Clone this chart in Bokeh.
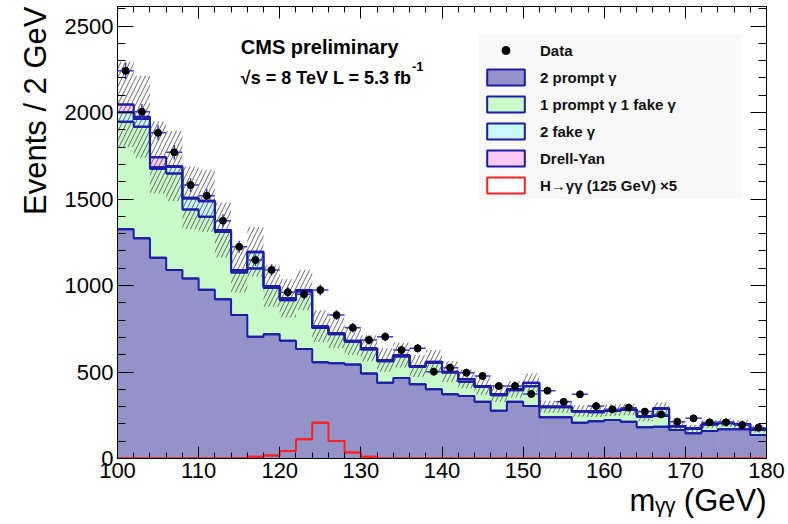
import numpy as np
from bokeh.plotting import figure
from bokeh.models import (Range1d, LinearAxis, SingleIntervalTicker, Label, Legend,
                          LegendItem, BoxAnnotation, Title)
from bokeh.embed import file_html
from bokeh.resources import INLINE

# ---------------- data ----------------
bin_low = [100, 102, 104, 106, 108, 110, 112, 114, 116, 118,
           120, 122, 124, 126, 128, 130, 132, 134, 136, 138,
           140, 142, 144, 146, 148, 150, 152, 154, 156, 158,
           160, 162, 164, 166, 168, 170, 172, 174, 176, 178]
bin_width = 2

prompt2 = [1325, 1273, 1160, 1090, 1040, 975, 920, 830, 704, 718,
           681, 633, 556, 550, 544, 492, 438, 465, 429, 400,
           371, 361, 328, 276, 328, 303, 238, 238, 207, 215,
           223, 213, 180, 184, 165, 146, 159, 169, 169, 136]
one_fake = [622, 645, 515, 558, 400, 422, 390, 245, 395, 267,
            234, 332, 199, 168, 131, 138, 124, 125, 101, 153,
            126, 83, 85, 90, 67, 115, 58, 58, 64, 53,
            53, 67, 62, 62, 20, 25, 37, 35, 27, 30]
two_fake = [54, 44, 8, 37, 63, 90, 8, 12, 93, 9,
            8, 6, 2, 3, 4, 5, 5, 6, 3, 5,
            3, 14, 4, 3, 3, 18, 2, 2, 2, 3,
            2, 2, 2, 42, 2, 2, 2, 2, 2, 2]
drell_yan = [46, 14, 58, 5, 4, 3, 3, 3, 3, 3,
             3, 3, 8, 3, 2, 2, 2, 2, 2, 2,
             2, 2, 2, 2, 2, 2, 2, 2, 2, 2,
             2, 2, 2, 2, 1, 1, 1, 1, 1, 1]
bkg_uncert = [246, 237, 209, 203, 181, 179, 159, 131, 143, 120,
              111, 117, 92, 87, 82, 76, 68, 72, 64, 67,
              60, 55, 50, 45, 48, 53, 36, 36, 33, 33,
              34, 34, 30, 35, 23, 21, 24, 25, 24, 20]
data = [2241, 2005, 1883, 1770, 1581, 1519, 1375, 1224, 1147, 1090,
        961, 949, 974, 829, 756, 685, 704, 627, 637, 502,
        525, 496, 477, 419, 419, 373, 392, 328, 371, 303,
        284, 294, 271, 255, 213, 232, 209, 209, 194, 178]
signal_x5 = [0, 0, 0, 0, 0, 0, 0, 2, 10, 18,
             43, 111, 207, 101, 34, 10, 0, 0, 0, 0,
             0, 0, 0, 0, 0, 0, 0, 0, 0, 0,
             0, 0, 0, 0, 0, 0, 0, 0, 0, 0]

legend_labels = ["Data", "2 prompt \u03b3", "1 prompt \u03b3 1 fake \u03b3", "2 fake \u03b3",
                 "Drell-Yan", "H\u2192\u03b3\u03b3 (125 GeV) \u00d75"]

# ---------------- styling ----------------
FONT = "Liberation Sans"
BLUE = "#1c1ca8"
C_PROMPT = "#9393c9"
C_ONEFAKE = "#c8f9c8"
C_TWOFAKE = "#c8f8fc"
C_DY = "#fcc8f6"
C_SIG = "#ff2020"
C_ERR = "#3c3cd0"

lo = np.array(bin_low, dtype=float)
hi = lo + bin_width
ctr = lo + bin_width / 2
edges = np.append(lo, hi[-1])
c1 = np.array(prompt2, float)
c2 = c1 + np.array(one_fake)
c3 = c2 + np.array(two_fake)
c4 = c3 + np.array(drell_yan)
unc = np.array(bkg_uncert, float)
d = np.array(data, float)
derr = np.sqrt(d)
sig = np.array(signal_x5, float)

p = figure(width=786, height=522, x_range=Range1d(100, 180), y_range=Range1d(0, 2613),
           output_backend="svg", toolbar_location=None,
           min_border_left=117, min_border_right=20, min_border_top=6, min_border_bottom=64)
p.xgrid.visible = False
p.ygrid.visible = False
p.outline_line_color = "black"
p.background_fill_color = "white"
p.border_fill_color = "white"

def style_axis(ax, major, minor, show_labels):
    ax.major_tick_in = major
    ax.major_tick_out = 0
    ax.minor_tick_in = minor
    ax.minor_tick_out = 0
    ax.axis_line_color = "black"
    ax.major_tick_line_color = "black"
    ax.minor_tick_line_color = "black"
    ax.major_label_text_font = FONT
    if show_labels:
        ax.major_label_text_color = "black"
        ax.major_label_text_font_size = "22px"
        ax.major_label_standoff = 4
    else:
        ax.major_label_text_color = None
        ax.major_label_text_font_size = "1px"
        ax.major_label_standoff = 0

p.xaxis.ticker = SingleIntervalTicker(interval=10, num_minor_ticks=5)
p.yaxis.ticker = SingleIntervalTicker(interval=500, num_minor_ticks=5)
style_axis(p.xaxis[0], 12, 6, True)
style_axis(p.yaxis[0], 16, 8, True)
top_ax = LinearAxis(ticker=SingleIntervalTicker(interval=10, num_minor_ticks=5))
right_ax = LinearAxis(ticker=SingleIntervalTicker(interval=500, num_minor_ticks=5))
style_axis(top_ax, 12, 6, False)
style_axis(right_ax, 16, 8, False)
p.add_layout(top_ax, "above")
p.add_layout(right_ax, "right")

# stacked fills
p.quad(left=lo, right=hi, bottom=0, top=c1, fill_color=C_PROMPT, line_color=C_PROMPT, line_width=1)
p.quad(left=lo, right=hi, bottom=c1, top=c2, fill_color=C_ONEFAKE, line_color=C_ONEFAKE, line_width=1)
p.quad(left=lo, right=hi, bottom=c2, top=c3, fill_color=C_TWOFAKE, line_color=C_TWOFAKE, line_width=1)
p.quad(left=lo, right=hi, bottom=c3, top=c4, fill_color=C_DY, line_color=C_DY, line_width=1)

# uncertainty band (hatched)
p.quad(left=lo, right=hi, bottom=c4 - unc, top=c4 + unc, fill_alpha=0, line_color=None,
       hatch_pattern="/", hatch_color="#555555", hatch_scale=9, hatch_weight=1, hatch_alpha=0.9)

# outlines: vertical connections via step lines, bin tops via zero-height quads (also legend swatches)
edge_r = []
for c, fc in ((c1, C_PROMPT), (c2, C_ONEFAKE), (c3, C_TWOFAKE), (c4, C_DY)):
    p.step(x=edges, y=np.append(c, c[-1]), mode="after", line_color=BLUE, line_width=2)
    edge_r.append(p.quad(left=lo, right=hi, bottom=c, top=c, fill_color=fc,
                         line_color=BLUE, line_width=2))

# signal
p.step(x=edges, y=np.append(sig, sig[-1]), mode="after", line_color=C_SIG, line_width=2)
r_sig = p.quad(left=lo, right=hi, bottom=sig, top=sig, fill_color="white",
               line_color=C_SIG, line_width=2)

# data
p.segment(x0=lo, x1=hi, y0=d, y1=d, line_color=C_ERR, line_width=1.5)
p.segment(x0=ctr, x1=ctr, y0=d - derr, y1=d + derr, line_color=C_ERR, line_width=1.5)
r_data = p.scatter(x=ctr, y=d, size=7, marker="circle", fill_color="black", line_color="black")

box = BoxAnnotation(left=144.5, right=176.9, bottom=1500, top=2452,
                    fill_color="#f8f8f8", fill_alpha=1, line_color=None)
p.add_layout(box)

legend = Legend(items=[LegendItem(label=legend_labels[0], renderers=[r_data]),
                       LegendItem(label=legend_labels[1], renderers=[edge_r[0]]),
                       LegendItem(label=legend_labels[2], renderers=[edge_r[1]]),
                       LegendItem(label=legend_labels[3], renderers=[edge_r[2]]),
                       LegendItem(label=legend_labels[4], renderers=[edge_r[3]]),
                       LegendItem(label=legend_labels[5], renderers=[r_sig])],
                location=(365, 263), glyph_width=47, glyph_height=20, spacing=7,
                padding=5, margin=0, label_standoff=11, label_text_font=FONT,
                label_text_font_size="15px", label_text_font_style="bold",
                label_text_color="#111111", background_fill_alpha=0, border_line_color=None)
p.add_layout(legend)

# texts in the frame
p.add_layout(Label(x=115.2, y=2376, text="CMS preliminary", text_font=FONT, text_font_size="20px",
                   text_font_style="bold", text_color="black", text_align="left", text_baseline="alphabetic"))
p.add_layout(Label(x=115.2, y=2200, text="\u221as = 8 TeV L = 5.3 fb", text_font=FONT, text_font_size="18px",
                   text_font_style="bold", text_color="black", text_align="left", text_baseline="alphabetic"))
p.add_layout(Label(x=136.3, y=2268, text="-1", text_font=FONT, text_font_size="13px",
                   text_font_style="bold", text_color="black", text_align="left", text_baseline="alphabetic"))

# axis titles
p.add_layout(Title(text="Events / 2 GeV", align="right", text_font=FONT, text_font_size="31px",
                   text_font_style="normal", text_color="black", standoff=18), "left")
p.add_layout(Title(text="m\u1d67\u1d67 (GeV)", align="right", text_font=FONT, text_font_size="31px",
                   text_font_style="normal", text_color="black", standoff=0), "below")

open("out.html", "w").write(file_html(p, INLINE))
